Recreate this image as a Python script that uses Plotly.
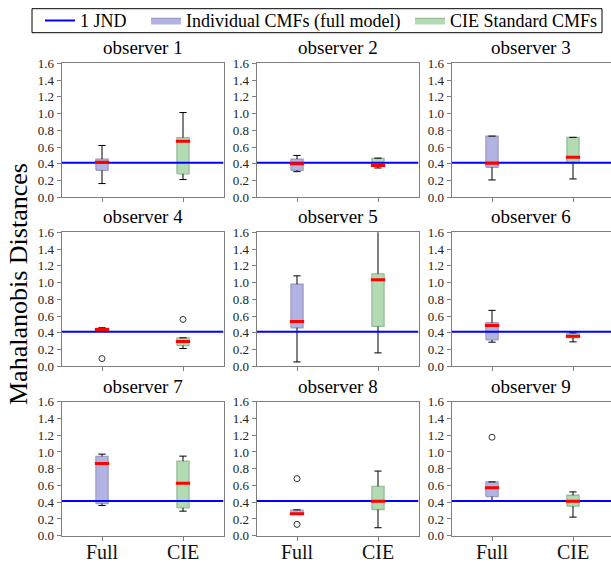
import plotly.graph_objects as go

# ---------------- data ----------------
observers = [f"observer {i}" for i in range(1, 10)]
groups = ["Full", "CIE"]
legend_names = ["Individual CMFs (full model)", "CIE Standard CMFs"]
jnd_name = "1 JND"
jnd_value = 0.413
y_ticks = [0.0, 0.2, 0.4, 0.6, 0.8, 1.0, 1.2, 1.4, 1.6]

# Full model (individual CMFs) box statistics per observer
full_lo = [0.164, 0.306, 0.207, 0.425, 0.052, 0.288, 0.360, 0.253, 0.408]
full_q1 = [0.322, 0.322, 0.358, 0.428, 0.460, 0.316, 0.384, 0.255, 0.467]
full_med = [0.420, 0.400, 0.406, 0.440, 0.536, 0.488, 0.863, 0.261, 0.574]
full_q3 = [0.456, 0.456, 0.731, 0.452, 0.980, 0.520, 0.947, 0.305, 0.642]
full_hi = [0.619, 0.500, 0.731, 0.460, 1.080, 0.668, 0.974, 0.309, 0.642]
full_out = [[], [], [], [0.092], [], [], [], [0.681, 0.135], [1.176]]

# CIE standard CMFs box statistics per observer
cie_lo = [0.212, 0.350, 0.219, 0.212, 0.160, 0.292, 0.293, 0.095, 0.222]
cie_q1 = [0.280, 0.370, 0.413, 0.248, 0.476, 0.340, 0.333, 0.313, 0.352]
cie_med = [0.668, 0.380, 0.478, 0.296, 1.032, 0.360, 0.626, 0.412, 0.412]
cie_q3 = [0.712, 0.465, 0.716, 0.340, 1.104, 0.392, 0.891, 0.590, 0.483]
cie_hi = [1.012, 0.468, 0.716, 0.340, 1.650, 0.400, 0.950, 0.772, 0.523]
cie_out = [[], [], [], [0.560], [], [], [], [], []]

# ---------------- style ----------------
W, H = 611, 564
FONT = "Liberation Serif"
col_px = [(61.5, 223.5), (256.5, 418.5), (451.5, 611.0)]
row_px = [(63.3, 197.3), (232.3, 366.3), (401.7, 535.7)]
px_per_unit = 81.0
fills = ["#b3b3e3", "#b3dbb3"]
edges = ["#9c9cc4", "#98bc98"]
box_hw, cap_hw, med_hw = 0.075, 0.045, 0.088
spine = "#7f7f7f"
legend_text_x = [80, 186, 450]  # px where each legend label starts
legend_ids = ["legend", "legend2", "legend3"]

stats = [
    (full_lo, full_q1, full_med, full_q3, full_hi, full_out),
    (cie_lo, cie_q1, cie_med, cie_q3, cie_hi, cie_out),
]

fig = go.Figure()
layout = {}
annotations = []

for k, obs in enumerate(observers):
    r, c = divmod(k, 3)
    n = k + 1
    xa = "x" if n == 1 else f"x{n}"
    ya = "y" if n == 1 else f"y{n}"
    x0, x1 = col_px[c]
    top, bot = row_px[r]
    xmax = 0.5 + (x1 - x0) / px_per_unit

    for g, name in enumerate(groups):
        p = g + 1
        lo, q1, med, q3, hi, out = (s[k] for s in stats[g])
        # box body
        fig.add_trace(go.Scatter(
            x=[p - box_hw, p + box_hw, p + box_hw, p - box_hw, p - box_hw],
            y=[q1, q1, q3, q3, q1], mode="lines", fill="toself",
            fillcolor=fills[g], line=dict(color=edges[g], width=1.3),
            name=legend_names[g], legendgroup=legend_names[g],
            legend=legend_ids[1 + g], showlegend=(k == 0),
            hoverinfo="skip", xaxis=xa, yaxis=ya))
        # whiskers
        fig.add_trace(go.Scatter(
            x=[p, p, None, p, p], y=[q1, lo, None, q3, hi], mode="lines",
            line=dict(color="black", width=1), showlegend=False,
            hoverinfo="skip", xaxis=xa, yaxis=ya))
        # caps
        fig.add_trace(go.Scatter(
            x=[p - cap_hw, p + cap_hw, None, p - cap_hw, p + cap_hw],
            y=[lo, lo, None, hi, hi], mode="lines",
            line=dict(color="black", width=1), showlegend=False,
            hoverinfo="skip", xaxis=xa, yaxis=ya))
        # outliers
        if out:
            fig.add_trace(go.Scatter(
                x=[p] * len(out), y=out, mode="markers",
                marker=dict(symbol="circle-open", size=6, color="#333333",
                            line=dict(width=1)),
                showlegend=False, hoverinfo="skip", xaxis=xa, yaxis=ya))
    # JND line
    fig.add_trace(go.Scatter(
        x=[0.5, xmax], y=[jnd_value, jnd_value], mode="lines",
        line=dict(color="#0000ff", width=2), name=jnd_name,
        legendgroup="jnd", legend=legend_ids[0], showlegend=(k == 0),
        hoverinfo="skip", xaxis=xa, yaxis=ya))
    # medians
    for g in range(2):
        p = g + 1
        med = stats[g][2][k]
        fig.add_trace(go.Scatter(
            x=[p - med_hw, p + med_hw], y=[med, med], mode="lines",
            line=dict(color="#ff0000", width=3), showlegend=False,
            hoverinfo="skip", xaxis=xa, yaxis=ya))

    layout["xaxis" if n == 1 else f"xaxis{n}"] = dict(
        domain=[x0 / W, x1 / W], range=[0.5, xmax], anchor=ya,
        tickvals=[1, 2], ticktext=groups, showticklabels=(r == 2),
        ticks="outside", ticklen=4, tickcolor=spine, tickwidth=1,
        showline=True, linecolor=spine, linewidth=1, mirror=True,
        showgrid=False, zeroline=False, ticklabelstandoff=-6,
        tickfont=dict(family=FONT, size=20, color="#111111"))
    layout["yaxis" if n == 1 else f"yaxis{n}"] = dict(
        domain=[1 - bot / H, 1 - top / H], range=[0, 1.6], anchor=xa,
        tickvals=y_ticks, ticktext=[f"{v:.1f}" for v in y_ticks],
        ticks="outside", ticklen=4, tickcolor=spine, tickwidth=1,
        showline=True, linecolor=spine, linewidth=1, mirror=(c != 2),
        showgrid=False, zeroline=False,
        tickfont=dict(family=FONT, size=13, color="#222222"))
    annotations.append(dict(
        text=obs, xref=f"{xa} domain", yref=f"{ya} domain", x=0.5, y=1,
        xanchor="center", yanchor="bottom", yshift=3, showarrow=False,
        font=dict(family=FONT, size=19, color="black")))

annotations.append(dict(
    text="Mahalanobis Distances", xref="paper", yref="paper",
    x=18 / W, y=1 - 284 / H, xanchor="center", yanchor="middle",
    textangle=-90, showarrow=False,
    font=dict(family=FONT, size=26, color="black")))

for lid, tx in zip(legend_ids, legend_text_x):
    layout[lid] = dict(
        orientation="h", x=(tx - 40) / W, y=1 - 20.7 / H,
        xanchor="left", yanchor="middle", borderwidth=0,
        bgcolor="rgba(0,0,0,0)", font=dict(family=FONT, size=18),
        itemwidth=30)

fig.update_layout(
    width=W, height=H, margin=dict(l=0, r=0, t=0, b=0, autoexpand=False),
    paper_bgcolor="white", plot_bgcolor="white",
    font=dict(family=FONT, color="black"),
    annotations=annotations,
    shapes=[dict(type="rect", xref="paper", yref="paper",
                 x0=32 / W, x1=602 / W, y0=1 - 32.7 / H, y1=1 - 8.7 / H,
                 line=dict(color="black", width=1), layer="above")],
    **layout)

fig.write_html("out.html", config={"displayModeBar": False},
               post_script="document.body.style.margin='0px';")
